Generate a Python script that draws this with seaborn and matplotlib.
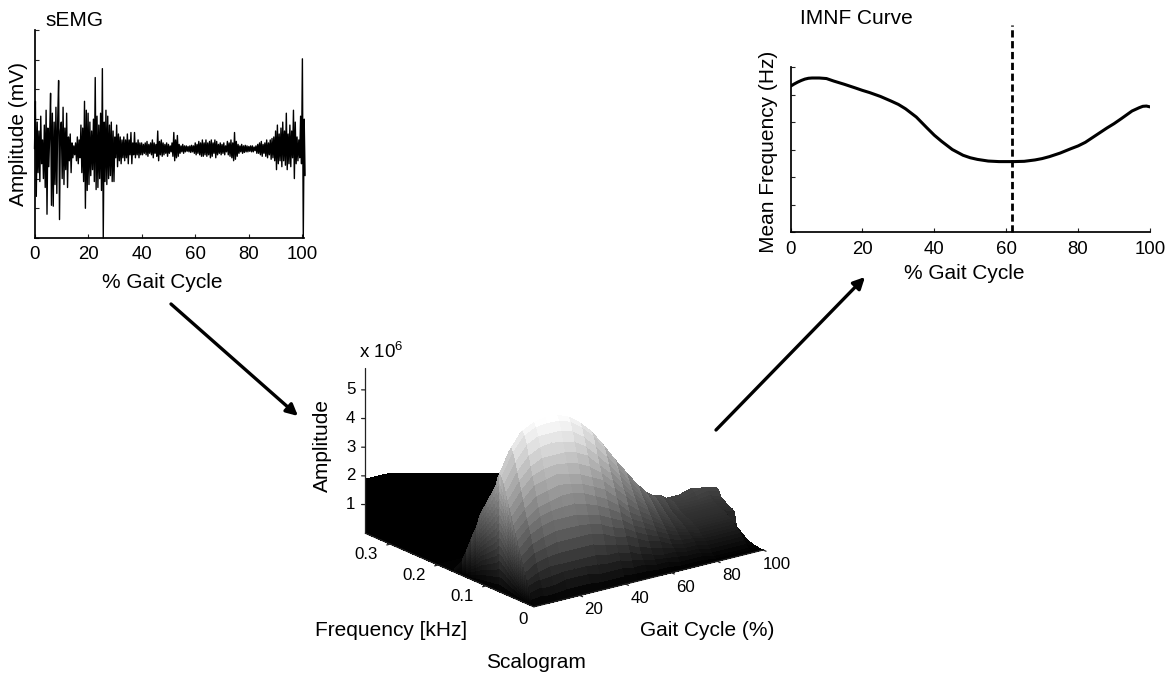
import numpy as np
import seaborn as sns
import matplotlib.pyplot as plt
from matplotlib.patches import FancyArrowPatch
from mpl_toolkits.mplot3d import proj3d

sns.set_theme(style="ticks")
plt.rcParams['font.family'] = ['Liberation Sans', 'DejaVu Sans']
plt.rcParams['mathtext.default'] = 'regular'
plt.rcParams['text.color'] = 'black'
plt.rcParams['axes.labelcolor'] = 'black'
plt.rcParams['axes.edgecolor'] = 'black'
plt.rcParams['xtick.labelcolor'] = 'black'
plt.rcParams['ytick.labelcolor'] = 'black'

W, H = 1174, 674

# sEMG trace, three samples per % of gait cycle
emg_0_10 = [3.0,4.6,1.4,3.9,2.2,3.6,1.9,4.1,2.5,3.3,2.0,3.8,1.7,4.3,0.8,3.7,2.4,3.5,4.87,1.1,4.2,1.07,3.9,1.8,4.4,1.5,4.0,5.3,0.62,3.6]
emg_10_20 = [3.9,2.0,4.4,1.8,3.7,2.3,4.2,1.7,3.4,2.6,3.5,2.2,3.2,2.7,3.1,2.8,3.2,2.6,3.4,2.5,3.3,2.7,3.8,2.2,3.7,1.9,4.6,1.0,4.3,1.6]
emg_20_30 = [4.2,1.8,3.9,2.1,3.6,2.3,4.0,1.9,5.4,1.63,4.1,1.7,3.8,2.0,4.2,1.6,5.7,0.0,3.9,1.9,4.3,1.8,4.1,2.0,3.8,2.1,3.9,1.9,3.6,1.9]
emg_30_40 = [3.4,2.7,3.8,2.4,3.5,2.6,3.4,2.5,3.3,2.7,3.4,2.6,3.3,2.7,3.5,2.5,3.3,2.8,3.55,2.5,3.2,2.8,3.55,2.7,3.2,2.8,3.3,2.7,3.2,2.8]
emg_40_50 = [3.2,2.8,3.15,2.85,3.2,2.8,3.25,2.75,3.15,2.85,3.2,2.8,3.3,2.7,3.2,2.85,3.15,2.75,3.6,2.6,3.25,2.8,3.3,2.75,3.2,2.8,3.15,2.85,3.2,2.75]
emg_50_60 = [3.15,2.85,3.1,2.9,3.2,2.75,3.55,2.6,3.3,2.7,3.45,2.75,3.15,2.85,3.1,2.9,3.15,2.85,3.1,2.9,3.1,2.92,3.08,2.9,3.1,2.88,3.12,2.9,3.1,2.85]
emg_60_70 = [3.2,2.8,3.15,2.85,3.25,2.8,3.2,2.75,3.3,2.75,3.2,2.8,3.3,2.75,3.2,2.8,3.25,2.7,3.3,2.75,3.2,2.85,3.3,2.7,3.25,2.8,3.15,2.85,3.2,2.8]
emg_70_80 = [3.15,2.85,3.2,2.8,3.1,2.9,3.25,2.8,3.2,2.75,3.3,2.7,3.2,2.6,3.55,2.65,3.25,2.75,3.15,2.85,3.1,2.9,3.15,2.85,3.1,2.88,3.12,2.9,3.1,2.9]
emg_80_90 = [3.08,2.92,3.1,2.9,3.1,2.9,3.06,2.94,3.1,2.85,3.15,2.85,3.2,2.8,3.25,2.75,3.15,2.85,3.2,2.75,3.3,2.7,3.2,2.8,3.3,2.65,3.35,2.7,3.4,2.6]
emg_90_100 = [3.6,2.3,3.8,2.5,3.5,2.6,3.7,2.4,3.9,2.6,3.6,2.45,4.2,2.3,3.5,2.5,3.8,2.4,3.6,2.7,4.3,2.0,3.9,2.5,3.4,2.6,3.3,2.7,4.1,2.5]
emg_end = [6.03,0.0,4.0,2.1]

# IMNF curve
imnf_gait = [0,1,2,3,4,5,6,8,10,12,15,18,20,22,25,28,30,32,35,38,40,42,45,48,50,52,55,58,60,62,65,68,70,72,75,78,80,82,85,88,90,92,95,97,98,99,100]
imnf_freq = [5.3,5.38,5.45,5.51,5.56,5.59,5.6,5.6,5.58,5.49,5.37,5.24,5.15,5.07,4.93,4.76,4.64,4.48,4.18,3.78,3.52,3.3,3.0,2.79,2.7,2.64,2.58,2.56,2.56,2.56,2.57,2.62,2.67,2.74,2.87,3.03,3.13,3.26,3.52,3.78,3.94,4.12,4.4,4.52,4.57,4.58,4.55]
marker_gait = 61.5

# scalogram amplitude (x 10^6), one row per frequency, one column per gait step
scalo_gait = [0,5,10,15,20,25,30,35,40,45,50,55,60,65,70,75,80,85,90,95,100]
scalo_freq = [0,.004,.008,.012,.016,.02,.024,.028,.032,.036,.04,.044,.048,.052,.056,.06,.064,.068,.072,.076,.08,.084,.088,.092,.096,.1,.104,.108,.112,.116,.12,.13,.14,.15,.165,.2,.26,.352]
scalo_amp = [
    [0,0,0,0,0,0,0,0,0,0,0,0,0,0,0,0,0,0,0,0,0],
    [.2,.25,.25,.3,.3,.3,.25,.25,.25,.2,.2,.15,.15,.1,.1,.1,.05,.05,.05,.05,0],
    [.4,.5,.5,.6,.6,.6,.5,.5,.5,.4,.4,.3,.3,.2,.2,.2,.1,.1,.1,.1,0],
    [.6,.75,.8,.85,.85,.85,.8,.75,.75,.65,.55,.45,.4,.35,.3,.3,.2,.2,.2,.2,.01],
    [.8,1.0,1.1,1.1,1.1,1.1,1.1,1.0,1.0,.9,.7,.6,.5,.5,.4,.4,.3,.3,.3,.3,.02],
    [1.05,1.3,1.4,1.45,1.45,1.45,1.45,1.35,1.25,1.15,.95,.8,.7,.6,.5,.5,.4,.4,.4,.4,.03],
    [1.3,1.6,1.7,1.8,1.8,1.8,1.8,1.7,1.5,1.4,1.2,1.0,.9,.7,.6,.6,.5,.5,.5,.5,.05],
    [1.55,1.9,2.05,2.15,2.15,2.15,2.1,2.0,1.8,1.65,1.4,1.2,1.05,.85,.72,.68,.58,.58,.58,.58,.07],
    [1.8,2.2,2.4,2.5,2.5,2.5,2.4,2.3,2.1,1.9,1.6,1.4,1.2,1.0,.85,.75,.65,.65,.65,.65,.1],
    [2.05,2.45,2.7,2.8,2.85,2.85,2.75,2.6,2.4,2.15,1.8,1.58,1.35,1.12,.95,.83,.72,.72,.72,.72,.15],
    [2.3,2.7,3.0,3.1,3.2,3.2,3.1,2.9,2.7,2.4,2.0,1.75,1.5,1.25,1.05,.9,.8,.8,.8,.8,.2],
    [2.55,3.0,3.35,3.45,3.55,3.5,3.4,3.2,3.0,2.65,2.25,1.92,1.65,1.35,1.12,.96,.85,.85,.85,.85,.25],
    [2.8,3.3,3.7,3.8,3.9,3.8,3.7,3.5,3.3,2.9,2.5,2.1,1.8,1.45,1.2,1.02,.9,.9,.9,.9,.3],
    [3.05,3.6,4.0,4.15,4.2,4.15,4.05,3.85,3.55,3.15,2.7,2.28,1.92,1.55,1.28,1.07,.95,.95,.95,.95,.36],
    [3.3,3.9,4.3,4.5,4.5,4.5,4.4,4.2,3.8,3.4,2.9,2.45,2.05,1.65,1.35,1.12,1.0,1.0,1.0,1.0,.42],
    [3.55,4.2,4.65,4.85,4.9,4.85,4.75,4.5,4.1,3.65,3.12,2.62,2.18,1.75,1.42,1.17,1.03,1.03,1.03,1.03,.9],
    [3.8,4.5,5.0,5.2,5.2,5.2,5.1,4.8,4.4,3.9,3.35,2.8,2.3,1.85,1.5,1.22,1.05,1.05,1.05,1.05,.95],
    [3.98,4.75,5.25,5.45,5.5,5.48,5.35,5.05,4.65,4.12,3.55,2.97,2.45,1.97,1.58,1.28,1.08,1.08,1.08,1.08,.98],
    [4.1,4.9,5.4,5.6,5.68,5.66,5.5,5.2,4.8,4.25,3.65,3.1,2.55,2.05,1.65,1.32,1.1,1.1,1.1,1.1,1.0],
    [3.9,4.75,5.3,5.5,5.55,5.55,5.4,5.1,4.72,4.2,3.62,3.1,2.6,2.12,1.72,1.4,1.15,1.15,1.15,1.15,1.05],
    [3.6,4.5,5.0,5.2,5.3,5.3,5.15,4.9,4.55,4.1,3.55,3.05,2.6,2.15,1.8,1.5,1.2,1.2,1.2,1.2,1.1],
    [3.45,4.25,4.7,4.9,5.0,5.0,4.9,4.65,4.33,3.9,3.4,2.95,2.55,2.15,1.83,1.58,1.27,1.25,1.25,1.27,1.15],
    [3.3,4.0,4.4,4.6,4.7,4.7,4.6,4.4,4.1,3.7,3.25,2.85,2.5,2.15,1.85,1.65,1.35,1.3,1.3,1.35,1.2],
    [3.15,3.7,4.08,4.25,4.35,4.35,4.25,4.05,3.8,3.45,3.05,2.68,2.38,2.08,1.8,1.68,1.4,1.35,1.4,1.47,1.35],
    [3.0,3.4,3.75,3.9,4.0,4.0,3.9,3.7,3.5,3.2,2.85,2.5,2.25,2.0,1.75,1.7,1.42,1.4,1.5,1.57,1.46],
    [2.85,3.15,3.42,3.55,3.6,3.6,3.52,3.35,3.18,2.9,2.6,2.3,2.08,1.85,1.65,1.6,1.44,1.43,1.55,1.55,1.45],
    [2.7,2.9,3.1,3.2,3.2,3.2,3.15,3.0,2.85,2.6,2.35,2.1,1.9,1.7,1.55,1.5,1.45,1.45,1.57,1.5,1.4],
    [2.55,2.65,2.8,2.88,2.9,2.9,2.82,2.7,2.58,2.35,2.12,1.9,1.7,1.55,1.42,1.38,1.33,1.33,1.42,1.35,.7],
    [2.4,2.4,2.5,2.55,2.6,2.6,2.5,2.4,2.3,2.1,1.9,1.7,1.5,1.4,1.3,1.25,1.2,1.2,1.25,1.2,0],
    [2.15,2.15,2.25,2.28,2.32,2.32,2.25,2.15,2.05,1.88,1.7,1.5,1.35,1.25,1.15,1.1,1.05,1.05,1.07,1.0,0],
    [1.9,1.9,2.0,2.0,2.05,2.05,2.0,1.9,1.8,1.65,1.5,1.3,1.2,1.1,1.0,.95,.9,.9,.9,.8,0],
    [1.45,1.3,1.3,1.35,1.35,1.35,1.3,1.25,1.2,1.1,1.0,.85,.75,.7,.65,.6,.55,.55,.5,.4,0],
    [.95,.8,.8,.8,.8,.8,.75,.7,.7,.6,.55,.5,.45,.4,.35,.3,.3,.25,.2,.15,0],
    [.5,.4,.4,.4,.4,.4,.35,.35,.3,.3,.25,.25,.2,.15,.15,.1,.1,.1,.1,.05,0],
    [.12,.1,.1,.1,.1,.1,.1,.1,.1,.1,.05,.05,.05,.05,.05,0,0,0,0,0,0],
    [.02,.02,.02,.02,.02,.02,.02,.02,.02,.02,.02,.02,.02,.02,.02,.02,0,0,0,0,0],
    [0,0,0,0,0,0,0,0,0,0,0,0,0,0,0,0,0,0,0,0,0],
    [0,0,0,0,0,0,0,0,0,0,0,0,0,0,0,0,0,0,0,0,0],
]

# black back wall of the scalogram
wall_gait = [0,10,20,30,40,50,60]
wall_top = [1.88,1.88,1.68,1.48,1.28,1.08,.88]

pct_ticks = [0,20,40,60,80,100]
amp_ticks = [1,2,3,4,5]
freq_ticks = [.1,.2,.3]
gait_ticks = [20,40,60,80,100]


def box(left, top, right, bottom):
    return [left / W, 1 - bottom / H, (right - left) / W, (bottom - top) / H]


def fx(x):
    return x / W


def fy(y):
    return 1 - y / H


def label3d(ax, g, f, z, s, **kw):
    xp, yp, _ = proj3d.proj_transform(g, f, z, ax.get_proj())
    ax.text2D(xp, yp, s, transform=ax.transData, **kw)


fig = plt.figure(figsize=(W / 100, H / 100), dpi=100, facecolor="white")

# sEMG panel
ax1 = fig.add_axes(box(34.5, 30, 304, 238))
emg = emg_0_10 + emg_10_20 + emg_20_30 + emg_30_40 + emg_40_50 + emg_50_60 + emg_60_70 + emg_70_80 + emg_80_90 + emg_90_100 + emg_end
emg_gait = np.arange(len(emg)) / 3
sns.lineplot(x=emg_gait, y=emg, color="black", linewidth=1.0, estimator=None, sort=False, ax=ax1, clip_on=False)
ax1.set_xlim(0, 100.6)
ax1.set_ylim(0, 7)
ax1.set_xticks(pct_ticks)
ax1.set_yticks(range(8))
ax1.set_yticklabels([])
ax1.tick_params(direction="in", length=3, width=0.8, labelsize=13.4, pad=6, color="#222222")
ax1.set_xlabel("% Gait Cycle", fontsize=15, va="center")
ax1.set_ylabel("Amplitude (mV)", fontsize=15, va="center")
ax1.xaxis.set_label_coords(fx(162), fy(282), transform=fig.transFigure)
ax1.yaxis.set_label_coords(fx(18.5), fy(134), transform=fig.transFigure)
sns.despine(ax=ax1)
fig.text(fx(45), fy(20), "sEMG", fontsize=15, va="center")

# IMNF panel
ax2 = fig.add_axes(box(790.5, 67, 1150, 232))
sns.lineplot(x=imnf_gait, y=imnf_freq, color="black", linewidth=2.2, estimator=None, ax=ax2)
ax2.axvline(marker_gait, ymin=0, ymax=207 / 165, color="black", linewidth=2, dashes=(2.6, 1.3), clip_on=False)
ax2.set_xlim(0, 100)
ax2.set_ylim(0, 6)
ax2.set_xticks(pct_ticks)
ax2.set_yticks(range(7))
ax2.set_yticklabels([])
ax2.tick_params(direction="in", length=3, width=0.8, labelsize=13.4, pad=6.5, color="#222222")
ax2.set_xlabel("% Gait Cycle", fontsize=15, va="center")
ax2.set_ylabel("Mean Frequency (Hz)", fontsize=15, va="center")
ax2.xaxis.set_label_coords(fx(964), fy(273), transform=fig.transFigure)
ax2.yaxis.set_label_coords(fx(769), fy(152), transform=fig.transFigure)
sns.despine(ax=ax2)
fig.text(fx(800), fy(19), "IMNF Curve", fontsize=15, va="center")

# scalogram panel
ax3 = fig.add_axes(box(346, 252, 771, 677), projection="3d", proj_type="ortho", computed_zorder=False)
ax3.view_init(elev=19.2, azim=233)
ax3.set_box_aspect((288, 281, 176))
f_max = scalo_freq[-1]
z_max = 5.78
ax3.set_xlim(0, 100)
ax3.set_ylim(0, f_max)
ax3.set_zlim(0, z_max)
ax3.set_axis_off()

wall_x = np.array([wall_gait, wall_gait], dtype=float)
wall_y = np.full(wall_x.shape, f_max)
wall_z = np.array([[0] * len(wall_top), wall_top], dtype=float)
ax3.plot_surface(wall_x, wall_y, wall_z, color="black", shade=False, linewidth=0, antialiased=False,
                 rstride=1, cstride=1, zorder=1)

amp = np.array(scalo_amp)
freq = np.array(scalo_freq)
G, F = np.meshgrid(scalo_gait, scalo_freq)
ax3.plot_surface(G, F, amp, cmap="gray", vmin=0, vmax=5.6, shade=False,
                 rstride=1, cstride=1, linewidth=0, antialiased=False, zorder=2)

# side face at gait 0, closes the gap under the first column of the surface
levels = np.linspace(0, 1, 16)
peak_row = scalo_freq.index(.072)
for rows, top in [(slice(peak_row, None), 6.5), (slice(0, peak_row + 1), 5.6)]:
    side_f = np.tile(freq[rows], (len(levels), 1))
    side_z = np.outer(levels, amp[rows, 0])
    ax3.plot_surface(np.zeros(side_f.shape), side_f, side_z, cmap="gray", vmin=0, vmax=top, shade=False,
                     rstride=1, cstride=1, linewidth=0, antialiased=False, zorder=3)

# axis lines and tick marks drawn by hand, the default 3D panes are off
axis_style = dict(color="#222222", linewidth=0.9, zorder=4)
ax3.plot([0, 0], [f_max, f_max], [0, z_max], **axis_style)
ax3.plot([0, 100], [0, 0], [0, 0], **axis_style)
ax3.plot([0, 0], [0, f_max], [0, 0], **axis_style)
for z in amp_ticks:
    ax3.plot([0, -1], [f_max, f_max + .003], [z, z], **axis_style)
    label3d(ax3, -2.8, f_max + .0073, z, str(z), fontsize=12.2, ha="right", va="center")
for g in gait_ticks:
    ax3.plot([g, g], [0, -.006], [0, 0], **axis_style)
    label3d(ax3, g - 5.3, -.0545, 0, str(g), fontsize=12.2, ha="center", va="center")
for f in freq_ticks:
    ax3.plot([0, -1.5], [f, f], [0, 0], **axis_style)
    label3d(ax3, -13.5, f - .015, 0, str(f), fontsize=12.2, ha="center", va="center")
fig.text(fx(523), fy(619), "0", fontsize=12.2, ha="center", va="center")

fig.text(fx(359), fy(352), "x 10$^{6}$", fontsize=13.5, va="center")
fig.text(fx(322), fy(445), "Amplitude", fontsize=15, rotation=90, ha="center", va="center")
fig.text(fx(391), fy(630), "Frequency [kHz]", fontsize=15, ha="center", va="center")
fig.text(fx(707), fy(630), "Gait Cycle (%)", fontsize=15, ha="center", va="center")
fig.text(fx(536), fy(662), "Scalogram", fontsize=15, ha="center", va="center")

# arrows between the panels
for start, end in [((171, 304), (298, 416)), ((716, 430), (865, 277))]:
    fig.add_artist(FancyArrowPatch((fx(start[0]), fy(start[1])), (fx(end[0]), fy(end[1])),
                                   transform=fig.transFigure, arrowstyle="-|>", mutation_scale=17,
                                   linewidth=2.4, color="black", shrinkA=0, shrinkB=0))

fig.savefig("out.png", dpi=100)
